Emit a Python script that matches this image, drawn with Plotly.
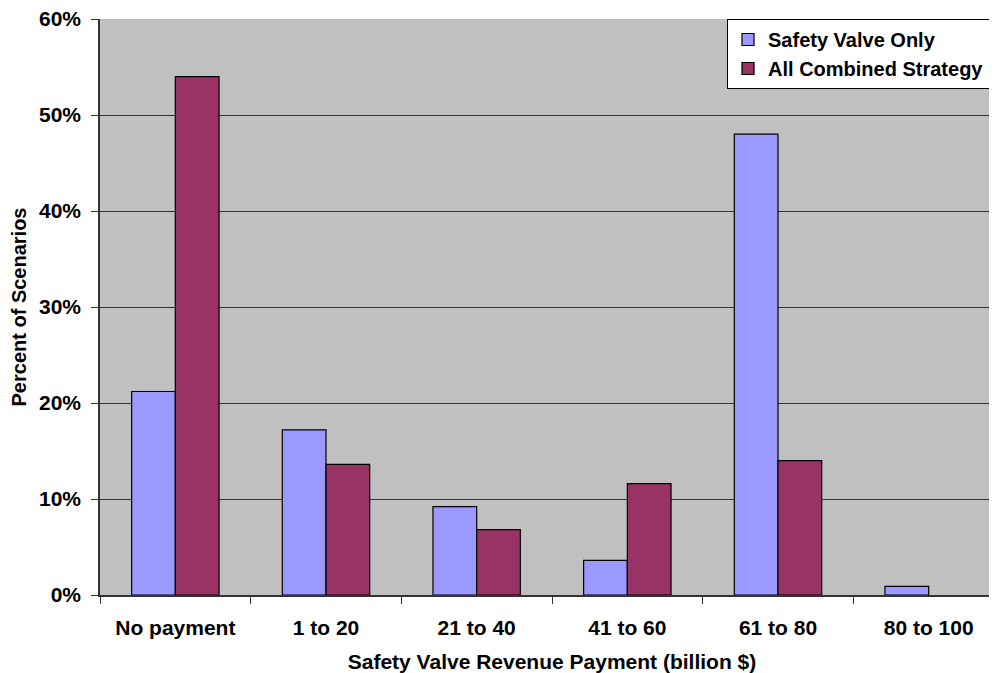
import plotly.graph_objects as go

categories = ["No payment", "1 to 20", "21 to 40", "41 to 60", "61 to 80", "80 to 100"]
safety_valve_only = [21.2, 17.2, 9.2, 3.6, 48.0, 0.9]
all_combined = [54.0, 13.6, 6.8, 11.6, 14.0, 0.0]

font_family = "Liberation Sans, Arial, sans-serif"

fig = go.Figure()
fig.add_trace(go.Bar(name="<b>Safety Valve Only</b>", x=categories, y=safety_valve_only,
                     marker=dict(color="#9999FF", line=dict(color="black", width=1.2))))
fig.add_trace(go.Bar(name="<b>All Combined Strategy</b>", x=categories, y=all_combined,
                     marker=dict(color="#993366",
                                 line=dict(color="black",
                                           width=[1.2 if v > 0 else 0 for v in all_combined]))))

# page body has an 8px default margin; figure sized so plot area matches the reference
fig.update_layout(
    width=996, height=665,
    margin=dict(l=92, r=0, t=11, b=78, autoexpand=False),
    paper_bgcolor="white",
    plot_bgcolor="#C0C0C0",
    barmode="group",
    bargap=0.42,
    bargroupgap=0,
    font=dict(family=font_family, size=20, color="black"),
    legend=dict(x=0.6936, y=1.0, xanchor="left", yanchor="top",
                bgcolor="white", bordercolor="black", borderwidth=1,
                font=dict(family=font_family, size=20, color="black"),
                tracegroupgap=0, itemwidth=30),
    showlegend=True,
)
fig.update_xaxes(
    type="category", automargin=False,
    showline=True, linecolor="#333333", linewidth=1.5,
    ticks="outside", tickson="boundaries", ticklen=7, tickcolor="#333333",
    tickfont=dict(family=font_family, size=21, color="black"),
    ticklabelstandoff=13,
    title=dict(text="<b>Safety Valve Revenue Payment (billion $)</b>",
               font=dict(family=font_family, size=21, color="black"), standoff=17),
    tickprefix="<b>", ticksuffix="</b>",
    showgrid=False,
)
fig.update_yaxes(
    range=[0, 60], dtick=10, ticksuffix="%</b>", tickprefix="<b>",
    automargin=False,
    showline=True, linecolor="#333333", linewidth=1.5,
    ticks="outside", ticklen=7, tickcolor="#333333",
    tickfont=dict(family=font_family, size=21, color="black"),
    ticklabelstandoff=6,
    ticklabeloverflow="allow",
    gridcolor="#333333", gridwidth=1,
    zeroline=False,
    title=dict(text="<b>Percent of Scenarios</b>",
               font=dict(family=font_family, size=20, color="black"), standoff=10),
)

fig.write_html("out.html")
